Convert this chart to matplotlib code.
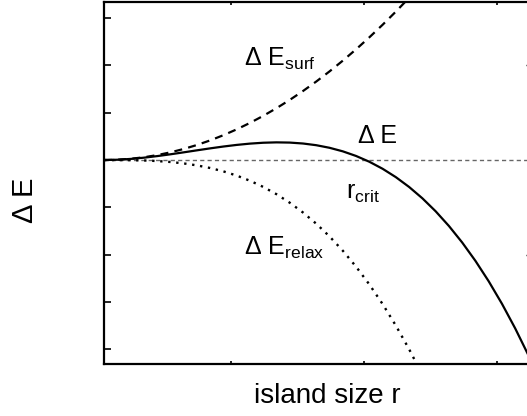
import matplotlib
matplotlib.use("Agg")
import matplotlib.pyplot as plt

plt.rcParams['font.family'] = ['Liberation Sans', 'DejaVu Sans']
plt.rcParams['mathtext.fontset'] = 'custom'
plt.rcParams['mathtext.rm'] = 'Liberation Sans'
plt.rcParams['mathtext.it'] = 'Liberation Sans'

# island size r (arbitrary units)
r_surf = [0.0, 0.1, 0.2, 0.3, 0.4, 0.5, 0.6, 0.7, 0.8, 0.9, 1.0, 1.1, 1.2, 1.3,
          1.4, 1.5, 1.6, 1.7, 1.8, 1.9, 2.0, 2.1, 2.2, 2.3, 2.4]
e_surf = [0.0, 0.0065, 0.0259, 0.0583, 0.1037, 0.162, 0.2333, 0.3175, 0.4147,
          0.5249, 0.648, 0.7841, 0.9331, 1.0951, 1.2701, 1.458, 1.6589, 1.8727,
          2.0995, 2.3393, 2.592, 2.8577, 3.1363, 3.4279, 3.7325]

r_relax = [0.0, 0.1, 0.2, 0.3, 0.4, 0.5, 0.6, 0.7, 0.8, 0.9, 1.0, 1.1, 1.2, 1.3,
           1.4, 1.5, 1.6, 1.7, 1.8, 1.9, 2.0, 2.1, 2.2, 2.3, 2.4]
e_relax = [0.0, -0.0003, -0.0026, -0.0089, -0.021, -0.0411, -0.071, -0.1127,
           -0.1682, -0.2395, -0.3285, -0.4372, -0.5677, -0.7217, -0.9014,
           -1.1087, -1.3455, -1.6139, -1.9158, -2.2532, -2.628, -3.0422,
           -3.4979, -3.9969, -4.5412]

r_total = [0.0, 0.1, 0.2, 0.3, 0.4, 0.5, 0.6, 0.7, 0.8, 0.9, 1.0, 1.1, 1.2, 1.3,
           1.4, 1.5, 1.6, 1.7, 1.8, 1.9, 2.0, 2.1, 2.2, 2.3, 2.4, 2.5, 2.6, 2.7,
           2.8, 2.9, 3.0, 3.1, 3.2]
e_total = [0.0, 0.0062, 0.0233, 0.0494, 0.0827, 0.1209, 0.1623, 0.2048, 0.2465,
           0.2854, 0.3195, 0.3469, 0.3655, 0.3734, 0.3687, 0.3493, 0.3134,
           0.2588, 0.1837, 0.0861, -0.036, -0.1845, -0.3616, -0.569, -0.8087,
           -1.0828, -1.3932, -1.742, -2.1309, -2.5621, -3.0375, -3.559, -4.1288]

x_ticks = [0.96, 1.96, 2.96]
y_ticks = [-4, -3, -2, -1, 0, 1, 2, 3]
y_ticks_right = [-2, 2]

W, H = 527, 416
fig = plt.figure(figsize=(W / 100, H / 100), dpi=100)
ax = fig.add_axes([104 / W, (H - 364) / H, (528.5 - 104) / W, (364 - 1.5) / H])

ax.axhline(0, color='#666666', lw=1.0, linestyle=(0, (3, 2.3)), zorder=1)
ax.plot(r_surf, e_surf, color='black', lw=1.6, linestyle=(0, (3.6, 2.8)), zorder=2)
ax.plot(r_relax, e_relax, color='black', lw=1.7, linestyle=(0, (1, 2.4)), zorder=2)
ax.plot(r_total, e_total, color='black', lw=1.6, zorder=3)

ax.set_xlim(0, 3.2)
ax.set_ylim(-4.31, 3.35)
ax.set_xticks(x_ticks)
ax.set_yticks(y_ticks)
ax.set_xticklabels([])
ax.set_yticklabels([])
ax.tick_params(axis='y', direction='in', length=5, width=1.2, left=True, right=False)
ax.tick_params(axis='x', direction='in', length=2.5, width=1.2, top=True, bottom=True)
for s in ax.spines.values():
    s.set_linewidth(1.6)

ax2 = ax.twinx()
ax2.set_ylim(ax.get_ylim())
ax2.set_yticks(y_ticks_right)
ax2.set_yticklabels([])
ax2.tick_params(axis='y', direction='in', length=2, width=1.0)
for s in ax2.spines.values():
    s.set_visible(False)

fs = 18
fig.text(244 / W, 1 - 66 / H, r'Δ E$_{\mathrm{surf}}$', fontsize=fs, ha='left', va='baseline')
fig.text(358 / W, 1 - 143 / H, 'Δ E', fontsize=fs, ha='left', va='baseline')
fig.text(346 / W, 1 - 199 / H, r'r$_{\mathrm{crit}}$', fontsize=fs, ha='left', va='baseline')
fig.text(244 / W, 1 - 255 / H, r'Δ E$_{\mathrm{relax}}$', fontsize=fs, ha='left', va='baseline')

fig.text(327 / W, 1 - 403 / H, 'island size r', fontsize=20, ha='center', va='baseline')
fig.text(25 / W, 1 - 200 / H, 'Δ E', fontsize=21, ha='center', va='center', rotation=90)

fig.savefig('out.png', dpi=100)
